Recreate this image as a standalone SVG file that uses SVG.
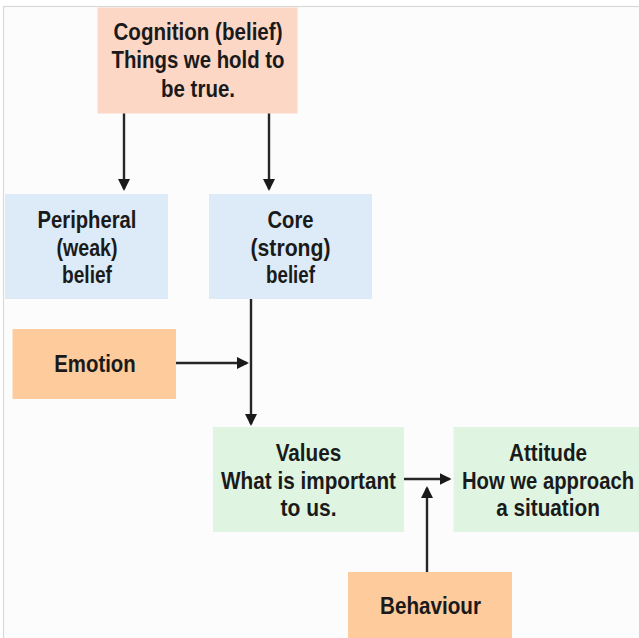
<svg xmlns="http://www.w3.org/2000/svg" width="639" height="638" viewBox="0 0 639 638">
<style>
text{font-family:"Liberation Sans Narrow","Liberation Sans",Arial,sans-serif;font-weight:bold;font-size:24.5px;fill:#1a1a1a;text-anchor:middle}
.peach{fill:#FCD7C6}
.blue{fill:#DCEBF7}
.orange{fill:#FDCB9C}
.green{fill:#DFF5E1}
.conn path{stroke:#262626;stroke-width:2.4;fill:none}
</style>
<defs>
<marker id="ah" viewBox="0 0 12 12" refX="10" refY="6" markerWidth="12" markerHeight="12" markerUnits="userSpaceOnUse" orient="auto">
<path d="M0,0 L12,6 L0,12 z" fill="#1a1a1a"/>
</marker>
</defs>
<rect width="639" height="638" fill="#ffffff"/>
<rect x="3.5" y="6.5" width="700" height="700" fill="#FCFCFC" stroke="#D9D9D9" stroke-width="1.2"/>

<g id="cognition">
<rect class="peach" x="97.5" y="7.5" width="200" height="106"/>
<text x="198" y="40" textLength="169" lengthAdjust="spacingAndGlyphs">Cognition (belief)</text>
<text x="198" y="68" textLength="173" lengthAdjust="spacingAndGlyphs">Things we hold to</text>
<text x="198" y="96.5" textLength="74" lengthAdjust="spacingAndGlyphs">be true.</text>
</g>

<g id="peripheral">
<rect class="blue" x="5" y="194" width="163" height="105"/>
<text x="87" y="227.5" textLength="99" lengthAdjust="spacingAndGlyphs">Peripheral</text>
<text x="87" y="255.5" textLength="61" lengthAdjust="spacingAndGlyphs">(weak)</text>
<text x="87" y="283" textLength="50" lengthAdjust="spacingAndGlyphs">belief</text>
</g>

<g id="core">
<rect class="blue" x="209" y="194" width="163" height="105"/>
<text x="290.5" y="227.5" textLength="46" lengthAdjust="spacingAndGlyphs">Core</text>
<text x="290.5" y="255.5" textLength="80" lengthAdjust="spacingAndGlyphs">(strong)</text>
<text x="290.5" y="283" textLength="49" lengthAdjust="spacingAndGlyphs">belief</text>
</g>

<g id="emotion">
<rect class="orange" x="12.5" y="329" width="163.5" height="70"/>
<text x="95" y="371.5" textLength="81.5" lengthAdjust="spacingAndGlyphs">Emotion</text>
</g>

<g id="values">
<rect class="green" x="213" y="427" width="191" height="105"/>
<text x="308.5" y="460.5" textLength="65.6" lengthAdjust="spacingAndGlyphs">Values</text>
<text x="308.5" y="488.5" textLength="175" lengthAdjust="spacingAndGlyphs">What is important</text>
<text x="308.5" y="516" textLength="56" lengthAdjust="spacingAndGlyphs">to us.</text>
</g>

<g id="attitude">
<rect class="green" x="453.5" y="427" width="191" height="105"/>
<text x="548" y="460.5" textLength="78" lengthAdjust="spacingAndGlyphs">Attitude</text>
<text x="548" y="488.5" textLength="172" lengthAdjust="spacingAndGlyphs">How we approach</text>
<text x="548" y="516" textLength="103.6" lengthAdjust="spacingAndGlyphs">a situation</text>
</g>

<g id="behaviour">
<rect class="orange" x="348" y="572" width="164" height="105"/>
<text x="430.5" y="614.3" textLength="101" lengthAdjust="spacingAndGlyphs">Behaviour</text>
</g>

<g id="connectors" class="conn">
<path d="M124,113.5 V189" marker-end="url(#ah)"/>
<path d="M269,113.5 V189" marker-end="url(#ah)"/>
<path d="M251,299 V424" marker-end="url(#ah)"/>
<path d="M176,363 H247" marker-end="url(#ah)"/>
<path d="M404,479 H449.5" marker-end="url(#ah)"/>
<path d="M427,572 V488" marker-end="url(#ah)"/>
</g>
</svg>
